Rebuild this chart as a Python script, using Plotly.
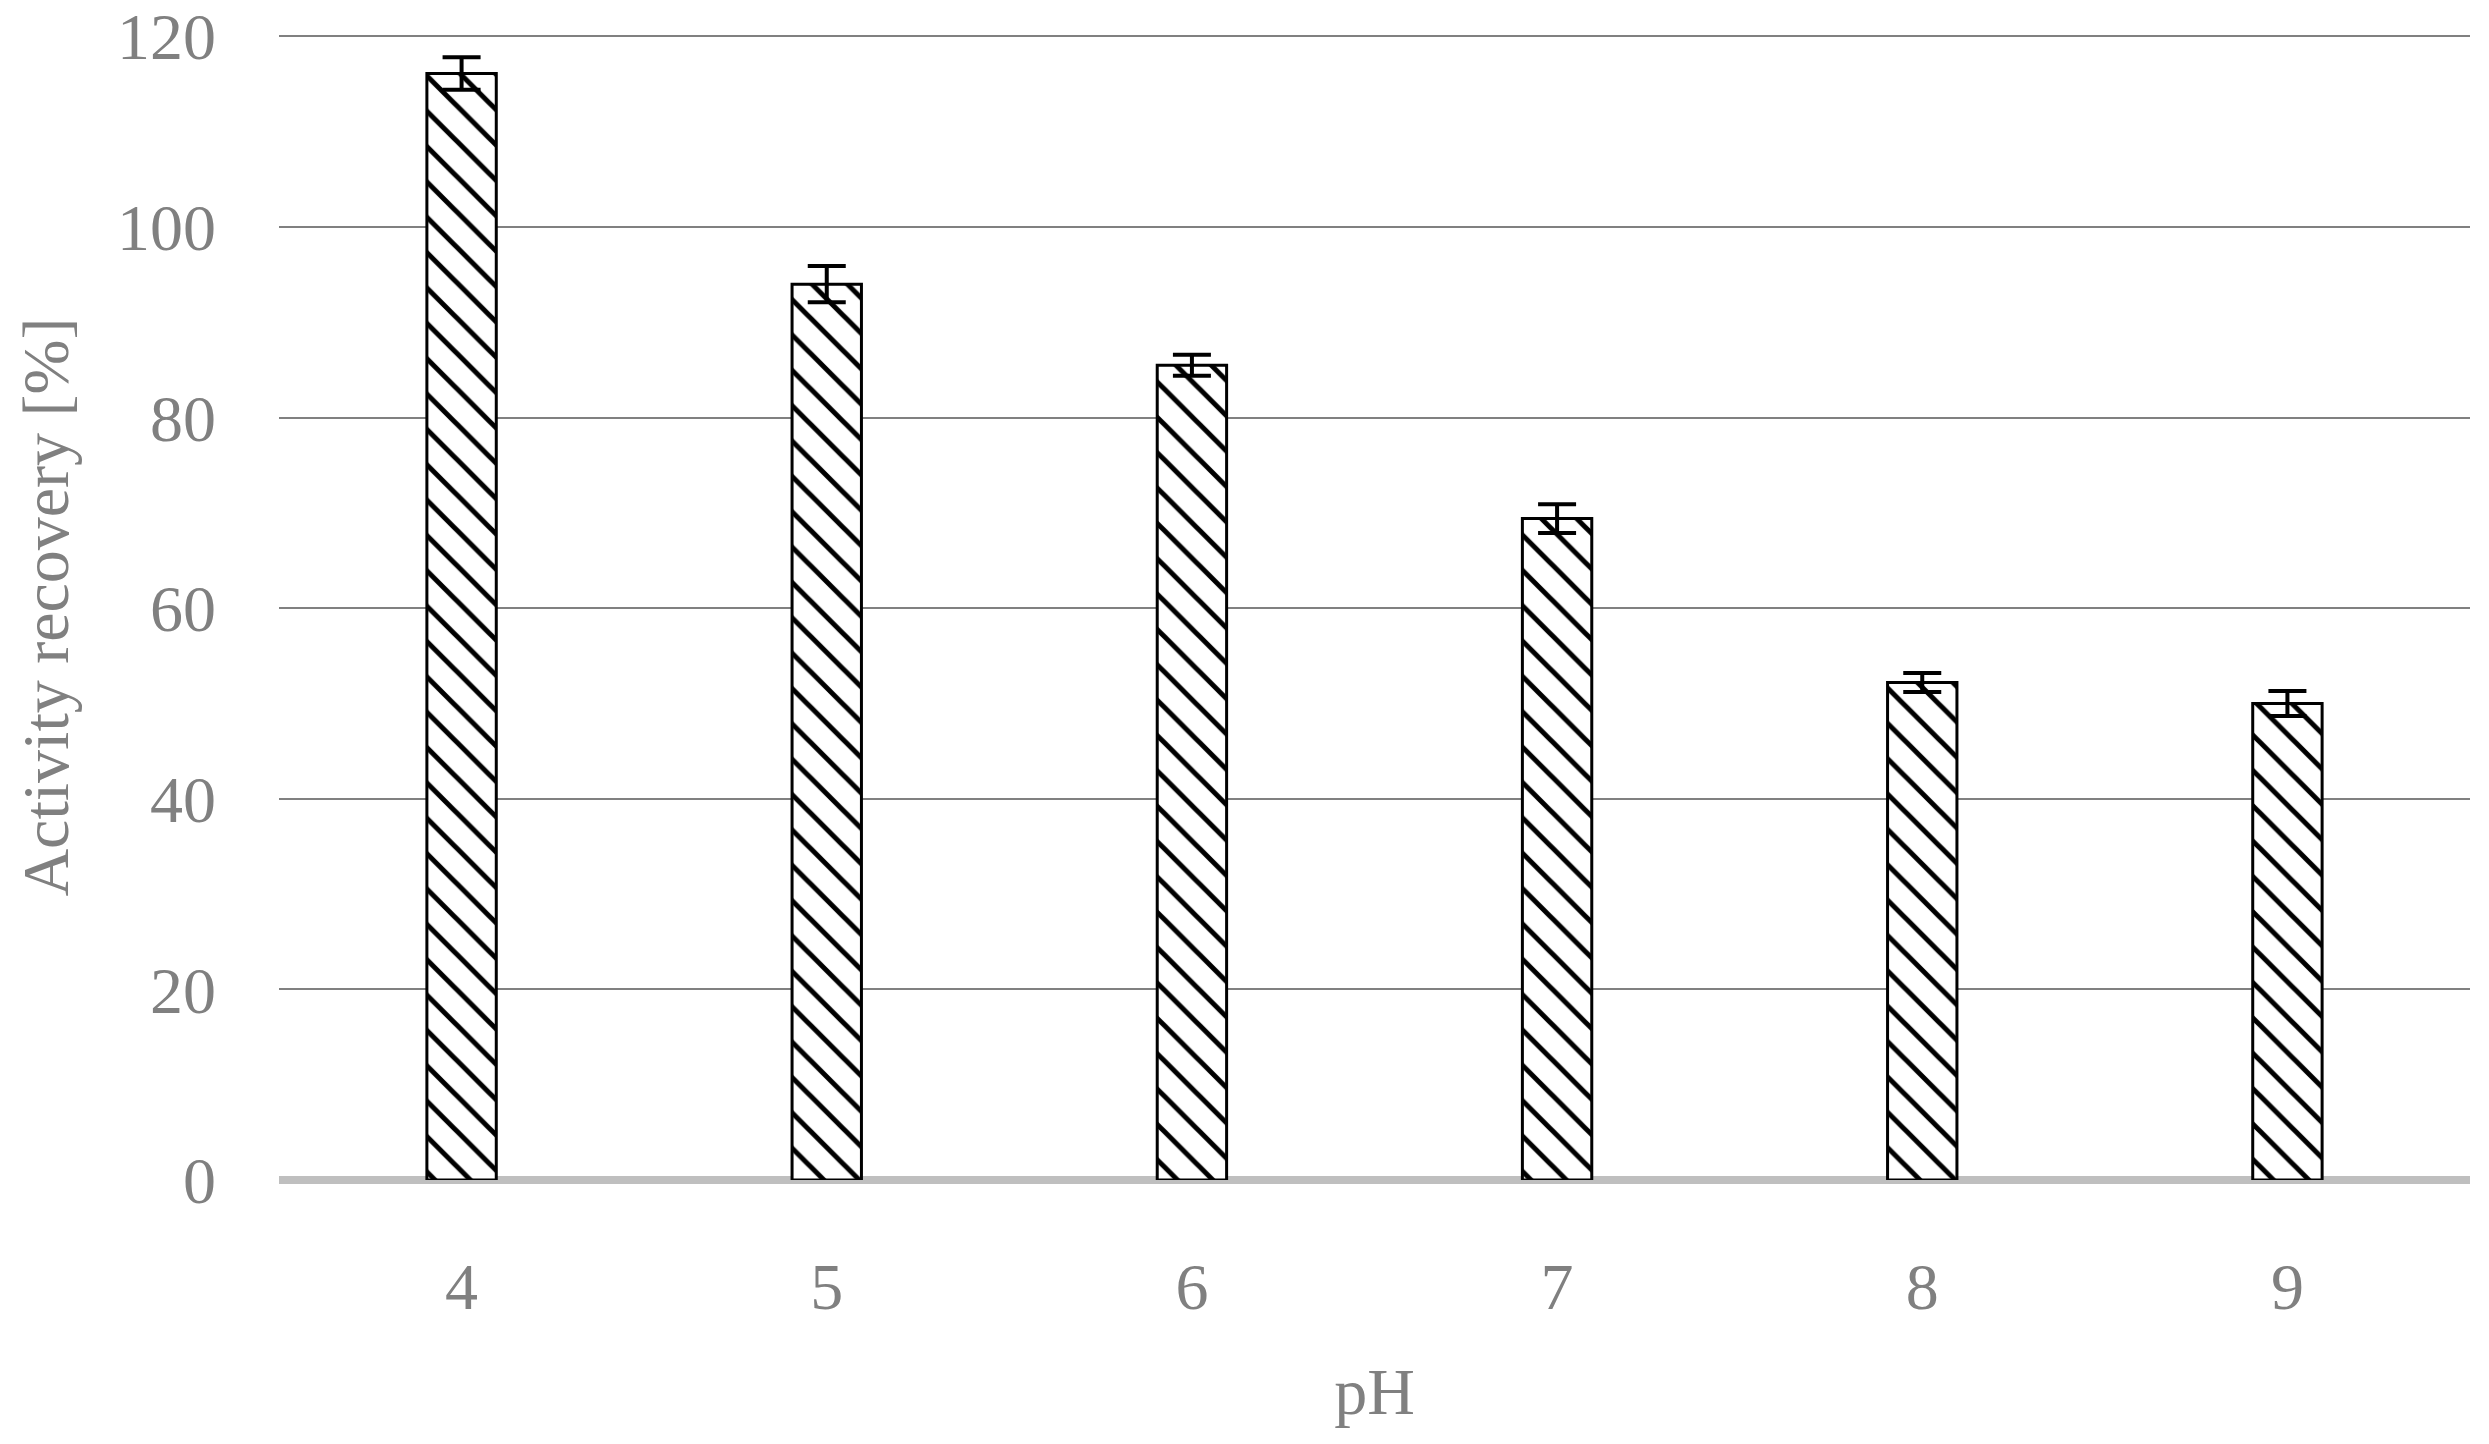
import plotly.graph_objects as go

ph_labels = ["4", "5", "6", "7", "8", "9"]
activity = [116.1, 94.0, 85.5, 69.4, 52.2, 50.0]
errors = [1.7, 1.9, 1.1, 1.5, 1.0, 1.3]
y_ticks = [0, 20, 40, 60, 80, 100, 120]

FONT = "Palatino Linotype, Book Antiqua, Palatino, Liberation Serif, serif"
GRAY = "#808080"

fig = go.Figure()
fig.add_trace(go.Bar(
    x=ph_labels,
    y=activity,
    error_y=dict(type="data", array=errors, visible=True,
                 color="black", thickness=4, width=19),
    marker=dict(
        color="white",
        line=dict(color="black", width=3),
        pattern=dict(shape="\\", fgcolor="black", bgcolor="white",
                     size=25, solidity=0.2, fillmode="replace"),
    ),
    width=0.19,
    showlegend=False,
))

fig.update_layout(
    width=2489, height=1444,
    margin=dict(l=271, r=27, t=26, b=272, autoexpand=False),
    paper_bgcolor="white", plot_bgcolor="white",
    font=dict(family=FONT, size=66, color=GRAY),
    xaxis=dict(
        type="category", automargin=False,
        showgrid=False, showline=False, ticks="",
        ticklabelstandoff=62, ticklabeloverflow="allow",
        tickfont=dict(family=FONT, size=66, color=GRAY),
        title=dict(text="pH", standoff=45,
                   font=dict(family=FONT, size=66, color=GRAY)),
    ),
    yaxis=dict(
        range=[0, 120.25], automargin=False,
        tickvals=y_ticks,
        showgrid=True, gridcolor=GRAY, gridwidth=2,
        zeroline=True, zerolinecolor="#bfbfbf", zerolinewidth=8,
        showline=False, ticks="",
        ticklabelstandoff=62, ticklabeloverflow="allow",
        tickfont=dict(family=FONT, size=66, color=GRAY),
        title=dict(text="Activity recovery [%]", standoff=26,
                   font=dict(family=FONT, size=66, color=GRAY)),
    ),
)

fig.write_html("out.html")
